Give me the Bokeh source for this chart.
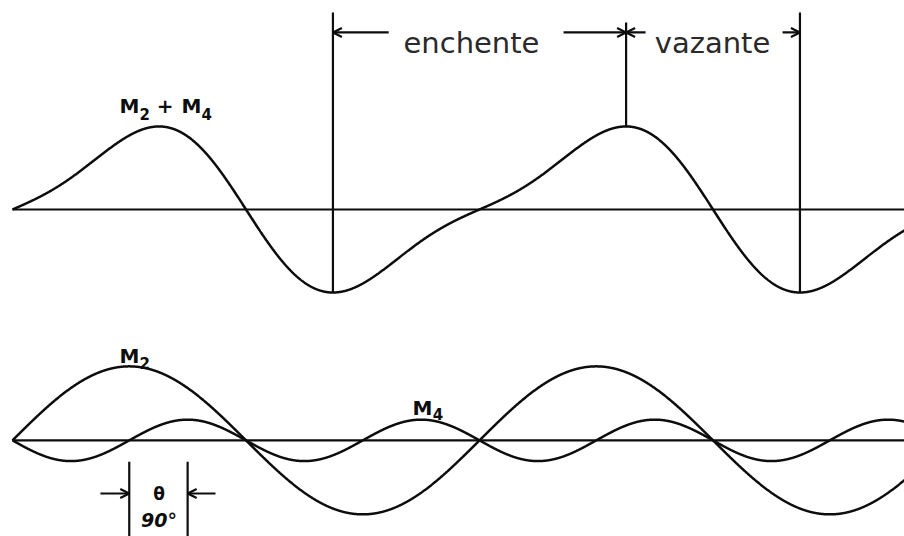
import numpy as np
from bokeh.plotting import figure
from bokeh.models import Range1d, Arrow, OpenHead
from bokeh.core.properties import value
from bokeh.embed import file_html
from bokeh.resources import INLINE

# Tidal constituents: amplitude (relative to M2), speed (cycles per M2 cycle),
# phase (degrees)
constituents = ["M2", "M4"]
amplitudes = [1.0, 0.28]
speeds = [1, 2]
phases = [0.0, 180.0]

# Baselines of the two panels (y units = M2 amplitude)
panel_offsets = [0.0, -3.12]

theta = np.linspace(0.0, 690.0, 2761)  # M2 phase, degrees


def constituent(i):
    return amplitudes[i] * np.sin(np.radians(speeds[i] * theta + phases[i]))


m2 = constituent(0)
m4 = constituent(1)
combined = m2 + m4

top, bottom = panel_offsets

p = figure(width=904, height=536, output_backend="svg", toolbar_location=None,
           x_range=Range1d(-9.25, 687.6), y_range=Range1d(-4.419, 2.824),
           x_axis_type=None, y_axis_type=None, min_border=0,
           background_fill_color="white", border_fill_color="white")
p.outline_line_color = None
p.xgrid.visible = False
p.ygrid.visible = False

INK = "#0d0d0d"
LW = 2.5

# zero lines
p.line([0, 700], [top, top], line_color=INK, line_width=2.2)
p.line([0, 700], [bottom, bottom], line_color=INK, line_width=2.2)

# upper panel: composite tide
p.line(theta, combined + top, line_color=INK, line_width=LW)

# lower panel: the two constituents
p.line(theta, m2 + bottom, line_color=INK, line_width=LW)
p.line(theta, m4 + bottom, line_color=INK, line_width=LW)


# extrema of the composite curve (low water, high water, low water)
def extreme(lo, hi, kind):
    idx = np.where((theta > lo) & (theta < hi))[0]
    j = idx[np.argmin(combined[idx])] if kind == "min" else idx[np.argmax(combined[idx])]
    return theta[j], combined[j] + top


lw1 = extreme(180, 360, "min")
hw = extreme(360, 540, "max")
lw2 = extreme(540, 690, "min")

p.segment(x0=[lw1[0], hw[0], lw2[0]], y0=[lw1[1], hw[1], lw2[1]],
          x1=[lw1[0], hw[0], lw2[0]], y1=[2.662, 2.527, 2.662],
          line_color=INK, line_width=2.2)

# flood / ebb duration arrows
arrow_y = 2.392
head = dict(size=9, line_width=2.2, line_color=INK)
for xs, xe in [(290.0, lw1[0]), (424.8, hw[0]), (488.0, hw[0]), (593.6, lw2[0])]:
    p.add_layout(Arrow(end=OpenHead(**head), x_start=xs, y_start=arrow_y,
                       x_end=xe, y_end=arrow_y, line_color=INK, line_width=2.2))

phase_words = ["enchente", "vazante"]
phase_x = [353.8, 539.6]
p.text(x=phase_x, y=[2.243, 2.243], text=phase_words,
       text_font=value("DejaVu Sans"), text_font_size="29px",
       text_color="#2a2a2a", text_align="center", text_baseline="alphabetic")

# constituent labels with subscripts
main_text = ["M", "+", "M", "M", "M"]
main_x = [82.5, 117.6, 130.3, 82.5, 308.4]
main_y = [1.392, 1.40, 1.392, -1.986, -2.676]
main_align = ["left", "center", "left", "left", "left"]
p.text(x=main_x, y=main_y, text=main_text, text_align=main_align,
       text_font=value("DejaVu Sans"), text_font_style="bold",
       text_font_size="20px", text_color=INK, text_baseline="alphabetic")

sub_text = ["2", "4", "2", "4"]
sub_x = [97.9, 145.7, 97.9, 324.0]
sub_y = [1.297, 1.297, -2.068, -2.757]
p.text(x=sub_x, y=sub_y, text=sub_text,
       text_font=value("DejaVu Sans"), text_font_style="bold",
       text_font_size="15px", text_color=INK, text_baseline="alphabetic")

# phase lag marker between the constituents (90 degrees of M4)
lag_x = [90.0, 135.0]
p.segment(x0=lag_x, y0=[-3.41, -3.41], x1=lag_x, y1=[-4.5, -4.5],
          line_color=INK, line_width=2.2)
lag_y = -3.838
for xs, xe in [(67.8, lag_x[0]), (156.5, lag_x[1])]:
    p.add_layout(Arrow(end=OpenHead(**head), x_start=xs, y_start=lag_y,
                       x_end=xe, y_end=lag_y, line_color=INK, line_width=2.2))

p.text(x=[113.0], y=[-3.838], text=["θ"], text_align="center",
       text_baseline="middle", text_font=value("DejaVu Sans"),
       text_font_style="bold", text_font_size="17px", text_color=INK)
p.text(x=[113.0], y=[-4.19], text=["90°"], text_align="center",
       text_baseline="middle", text_font=value("DejaVu Sans"),
       text_font_style="bold italic", text_font_size="19px", text_color=INK)

open("out.html", "w").write(file_html(p, INLINE))
